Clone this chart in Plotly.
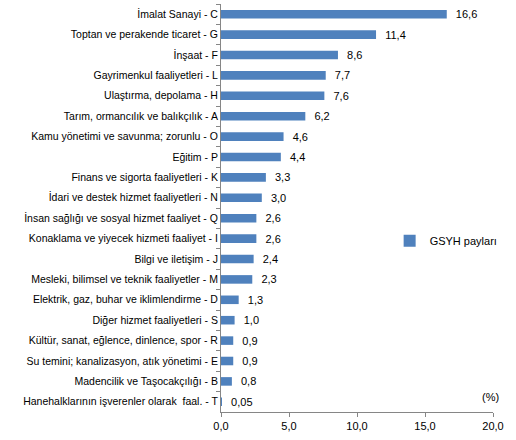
import plotly.graph_objects as go

sectors = [
    "İmalat Sanayi - C",
    "Toptan ve perakende ticaret - G",
    "İnşaat - F",
    "Gayrimenkul faaliyetleri - L",
    "Ulaştırma, depolama - H",
    "Tarım, ormancılık ve balıkçılık - A",
    "Kamu yönetimi ve savunma; zorunlu - O",
    "Eğitim - P",
    "Finans ve sigorta faaliyetleri - K",
    "İdari ve destek hizmet faaliyetleri - N",
    "İnsan sağlığı ve sosyal hizmet faaliyet - Q",
    "Konaklama ve yiyecek hizmeti faaliyet - I",
    "Bilgi ve iletişim - J",
    "Mesleki, bilimsel ve teknik faaliyetler - M",
    "Elektrik, gaz, buhar ve iklimlendirme - D",
    "Diğer hizmet faaliyetleri - S",
    "Kültür, sanat, eğlence, dinlence, spor - R",
    "Su temini; kanalizasyon, atık yönetimi - E",
    "Madencilik ve Taşocakçılığı - B",
    "Hanehalklarının işverenler olarak  faal. - T",
]
shares = [16.6, 11.4, 8.6, 7.7, 7.6, 6.2, 4.6, 4.4, 3.3, 3.0,
          2.6, 2.6, 2.4, 2.3, 1.3, 1.0, 0.9, 0.9, 0.8, 0.05]
x_ticks = [0, 5, 10, 15, 20]


def fmt(v):
    # turkish style decimal comma
    s = "%.2f" % v if v < 0.1 else "%.1f" % v
    return s.replace(".", ",")


labels = ["\u00a0\u00a0" + fmt(v) for v in shares]

FONT = "Liberation Sans, Arial, sans-serif"
AXIS = "#868686"

fig = go.Figure()
fig.add_trace(go.Bar(
    x=shares, y=sectors, orientation="h",
    name="GSYH payları",
    marker=dict(color="#4F81BD", line=dict(width=0)),
    text=labels, textposition="outside", cliponaxis=False,
    constraintext="none",
    textfont=dict(size=11, color="black", family=FONT),
    width=0.42,
))

fig.update_layout(
    width=516, height=440,
    margin=dict(l=221, r=23, t=4, b=28),
    plot_bgcolor="white", paper_bgcolor="white",
    font=dict(family=FONT, size=11, color="black"),
    separators=",.",
    showlegend=True,
    legend=dict(x=0.62, y=0.42, xanchor="left", yanchor="middle",
                bgcolor="rgba(0,0,0,0)", font=dict(size=11)),
    annotations=[dict(text="(%)", x=0.989, y=0.037, xref="paper",
                      yref="paper", xanchor="center", yanchor="middle",
                      showarrow=False, font=dict(size=11))],
)
fig.update_xaxes(range=[0, 20], tickvals=x_ticks, tickformat=".1f",
                 showgrid=False, zeroline=False, showline=True,
                 linecolor=AXIS, ticks="outside", ticklen=4,
                 tickcolor=AXIS, automargin=False)
fig.update_yaxes(autorange="reversed", showgrid=False, showline=True,
                 linecolor=AXIS, ticks="outside", ticklen=4,
                 tickcolor=AXIS, tickson="boundaries", automargin=False,
                 tickfont=dict(size=10.5))

# the page's default 8px body margin would push the chart off the window
fig.write_html("out.html", config={"displayModeBar": False},
               post_script="document.body.style.margin='0';")
